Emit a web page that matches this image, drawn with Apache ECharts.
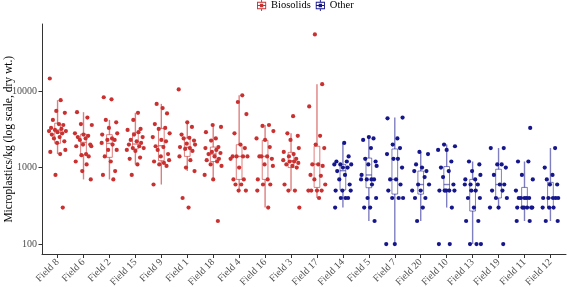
<!DOCTYPE html>
<html>
<head>
<meta charset="utf-8">
<script src="https://cdn.jsdelivr.net/npm/echarts@6/dist/echarts.min.js"></script>
<style>html,body{margin:0;padding:0;background:#fff}#c{width:567px;height:287px}</style>
</head>
<body>
<div id="c"></div>
<script>
// ---- data ----
const FIELDS = ['Field 8','Field 6','Field 2','Field 15','Field 9','Field 1','Field 18','Field 4','Field 16','Field 3','Field 17',
                'Field 14','Field 5','Field 7','Field 20','Field 10','Field 13','Field 19','Field 11','Field 12'];
const GROUPS = ['Biosolids','Other'];
const FIELD_GROUP = [0,0,0,0,0,0,0,0,0,0,0, 1,1,1,1,1,1,1,1,1];

const field8  = [14600,7600,5500,5200,4200,3700,3600,3300,3200,3100,3000,3000,2900,2800,2700,2500,2400,2200,2100,1700,1600,1500,800,300];
const field6  = [5300,4500,3700,3600,2800,2700,2600,2500,2400,2300,2000,2000,1900,1900,1500,1450,1400,1200,1100,900,700];
const field2  = [8300,7800,4200,3900,3300,2800,2700,2400,2300,2300,2100,2000,1700,1700,1400,1200,900,800,700];
const field15 = [5200,4200,3200,3100,2900,2700,2500,2300,2200,2100,2000,1900,1800,1800,1700,1650,1350,1300,1100,800];
const field9  = [6800,6000,5100,3700,3300,3200,2800,2500,2300,2200,1900,1850,1700,1500,1400,1250,1200,1150,1100,1050,600];
const field1  = [10500,3900,3400,2700,2450,2400,2250,2050,2000,1850,1800,1750,1650,1400,1250,1000,900,400,300];
const field18 = [3600,3400,2900,2400,2250,1850,1800,1700,1600,1550,1500,1400,1300,1250,1200,1100,1050,800,700,200];
const field4  = [8800,7200,5000,2800,2000,1800,1400,1400,1400,1400,1300,1000,700,700,600,600,500,500];
const field16 = [3600,3500,3000,2400,2300,1850,1400,1400,1400,1300,1100,1050,700,700,600,600,500,300];
const field3  = [4700,2800,2600,2300,1800,1600,1500,1400,1300,1250,1200,1200,1150,1100,1050,1000,600,500,500,300];
const field17 = [55000,12300,6300,2600,2000,1800,1100,1100,1050,800,780,700,600,500,500,500,500,400];
const field14 = [2100,1400,1200,1200,1100,1100,1100,1000,1000,900,800,700,600,500,500,500,400,400,400,300];
const field5  = [2500,2400,2300,1800,1300,1200,1100,1050,800,700,700,700,700,600,400,400,300,300,200];
const field7  = [4500,4400,2400,2000,1800,1500,1300,1300,1000,700,700,600,500,400,400,400,100,100];
const field20 = [1600,1500,1100,1000,900,900,750,600,600,500,500,400,400,300,200];
const field10 = [2000,1900,1700,1700,1200,1000,900,750,600,500,500,500,500,500,300,100,100];
const field13 = [1200,1100,900,800,700,700,600,600,600,500,500,400,400,300,200,200,100,100,100];
const field19 = [1800,1800,1100,1100,1000,800,600,600,500,500,400,400,300,300,100];
const field11 = [3300,1200,1200,800,700,500,400,400,400,400,400,300,300,300,300,300,300,200,200];
const field12 = [1800,1000,800,700,600,600,400,400,400,400,400,300,300,300,200,200];
const POINTS = [field8,field6,field2,field15,field9,field1,field18,field4,field16,field3,field17,
                field14,field5,field7,field20,field10,field13,field19,field11,field12];

// box statistics (whisker low, Q1, median, Q3, whisker high)
const BOX_LO  = [1500,700,700,1100,600,900,700,500,300,500,400, 300,200,100,200,300,100,300,200,200];
const BOX_Q1  = [2070,1470,1360,1750,1230,1400,1200,700,700,1000,550, 510,545,450,450,520,270,400,300,300];
const BOX_MED = [3100,2130,2070,2030,1930,1840,1500,1400,1400,1230,1110, 910,800,700,600,600,495,600,400,400];
const BOX_Q3  = [3800,2740,2690,2850,3250,2430,1850,1990,2270,1580,1900, 1100,1330,1750,900,1030,700,950,550,640];
const BOX_HI  = [7600,5300,4200,5200,6800,3900,3600,8800,3600,2800,12300, 2100,2500,4500,1600,2000,1200,1800,1200,1800];

const Y_TICKS = [100, 1000, 10000];

// horizontal jitter pattern (category units)
const JITTER = [-0.30,0.12,-0.05,0.28,-0.18,0.05,0.22,-0.25,0.15,-0.10,0.32,-0.33,0.00,0.18,-0.22,0.08,-0.14,0.26,-0.02,0.30,-0.28,0.10,-0.08,0.20];

// ---- styles ----
const COLORS = ['#C93131', '#16168C'];
const BOX_COLORS = ['rgba(201,49,49,0.62)', 'rgba(22,22,140,0.55)'];
const SERIF = 'Liberation Serif';
const ICON = 'path://M5.5,0h1v2h-1z M1,2h10v1h-10z M1,9h10v1h-10z M1,2h1v8h-1z M10,2h1v8h-1z M1,5.5h10v1h-10z M5.5,10h1v2h-1z M4.2,4.2h3.6v3.6h-3.6z';

const boxData = FIELDS.map((f, i) => [i, BOX_LO[i], BOX_Q1[i], BOX_MED[i], BOX_Q3[i], BOX_HI[i], FIELD_GROUP[i]]);

const scatterData = [[], []];
POINTS.forEach((vals, i) => {
  vals.forEach((v, j) => {
    scatterData[FIELD_GROUP[i]].push([i + JITTER[(j + i * 7) % JITTER.length], v]);
  });
});

function renderBox(params, api) {
  const x = api.value(0);
  const g = api.value(6);
  const col = BOX_COLORS[g];
  const lo = api.coord([x, api.value(1)]);
  const q1 = api.coord([x, api.value(2)]);
  const md = api.coord([x, api.value(3)]);
  const q3 = api.coord([x, api.value(4)]);
  const hi = api.coord([x, api.value(5)]);
  const hw = api.coord([x + 0.11, api.value(3)])[0] - md[0];
  const cx = md[0];
  return {
    type: 'group',
    children: [
      { type: 'line', shape: { x1: cx, y1: q3[1], x2: cx, y2: hi[1] }, style: { stroke: col, lineWidth: 1.4 } },
      { type: 'line', shape: { x1: cx, y1: q1[1], x2: cx, y2: lo[1] }, style: { stroke: col, lineWidth: 1.4 } },
      { type: 'rect', shape: { x: cx - hw, y: q3[1], width: 2 * hw, height: q1[1] - q3[1] }, style: { fill: 'none', stroke: col, lineWidth: 1 } },
      { type: 'line', shape: { x1: cx - hw, y1: md[1], x2: cx + hw, y2: md[1] }, style: { stroke: col, lineWidth: 1.4 } }
    ]
  };
}

const chart = echarts.init(document.getElementById('c'), null, { renderer: 'canvas' });
chart.setOption({
  animation: false,
  backgroundColor: '#fff',
  legend: {
    data: [{ name: 'Biosolids', icon: ICON }, { name: 'Other', icon: ICON }],
    left: 257, top: 0, padding: 0,
    itemWidth: 11, itemHeight: 11, itemGap: 5,
    textStyle: { fontFamily: SERIF, fontSize: 10.5, color: '#000', padding: [0, 0, 0, -1] }
  },
  grid: { left: 42, right: 1, top: 24, height: 230.5, containLabel: false, outerBoundsMode: 'none' },
  xAxis: {
    type: 'value', min: -0.6, max: 19.6,
    splitLine: { show: false },
    axisLine: { show: true, onZero: false, lineStyle: { color: '#333', width: 1 } },
    axisTick: { show: true, length: 3.5, lineStyle: { color: '#333' }, customValues: FIELDS.map((f, i) => i) },
    axisLabel: {
      customValues: FIELDS.map((f, i) => i),
      formatter: v => FIELDS[Math.round(v)],
      rotate: 45, margin: 6, fontFamily: SERIF, fontSize: 10, color: '#4D4D4D'
    }
  },
  yAxis: {
    type: 'log', logBase: 10, min: 73, max: 75300,
    name: 'Microplastics/kg (log scale, dry wt.)',
    nameLocation: 'middle', nameGap: 27, nameMoveOverlap: false,
    nameTextStyle: { fontFamily: SERIF, fontSize: 11.5, color: '#000' },
    splitLine: { show: false },
    axisLine: { show: true, onZero: false, lineStyle: { color: '#333', width: 1 } },
    axisTick: { show: true, length: 3.5, lineStyle: { color: '#333' }, customValues: Y_TICKS },
    axisLabel: { customValues: Y_TICKS, formatter: v => String(Math.round(v)), margin: 5, fontFamily: SERIF, fontSize: 10, color: '#4D4D4D' }
  },
  series: [
    {
      type: 'custom',
      renderItem: renderBox,
      data: boxData,
      encode: { x: 0, y: [1, 2, 3, 4, 5] },
      silent: true, z: 2
    },
    {
      name: GROUPS[0], type: 'scatter', data: scatterData[0],
      symbol: 'circle', symbolSize: 4.2,
      itemStyle: { color: COLORS[0], opacity: 1 }, z: 3
    },
    {
      name: GROUPS[1], type: 'scatter', data: scatterData[1],
      symbol: 'circle', symbolSize: 4.2,
      itemStyle: { color: COLORS[1], opacity: 1 }, z: 3
    }
  ]
});
</script>
</body>
</html>
